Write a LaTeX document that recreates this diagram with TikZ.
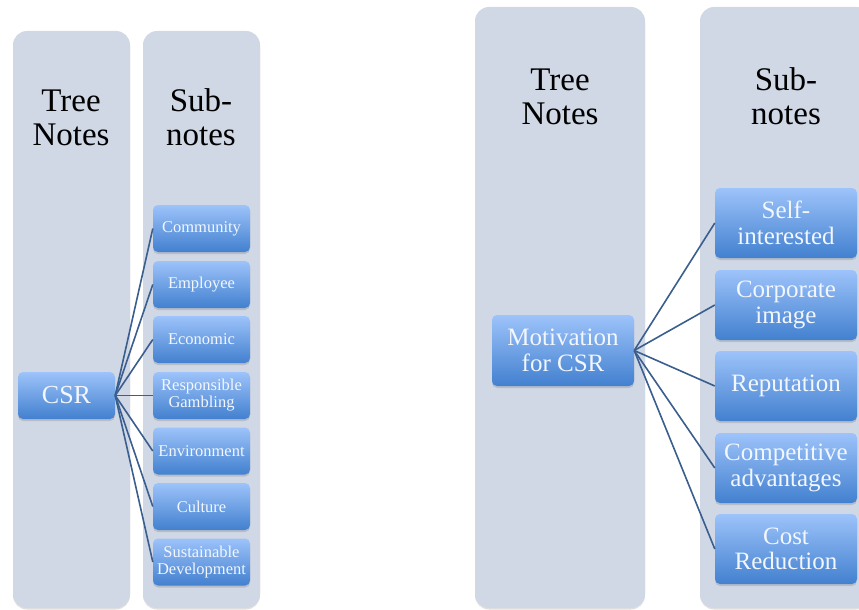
\documentclass[tikz,border=0pt]{standalone}
\usepackage{fontspec}
\setmainfont{Liberation Serif}
\usetikzlibrary{shadows}

\definecolor{colfill}{RGB}{208,215,229}
\definecolor{boxtop}{RGB}{157,195,250}
\definecolor{boxbot}{RGB}{66,128,207}
\definecolor{linkcol}{RGB}{58,94,142}
\definecolor{boxtext}{RGB}{242,246,253}

\tikzset{
  column/.style={draw=none, fill=colfill, rounded corners=14pt,
    drop shadow={shadow xshift=0pt, shadow yshift=-1.5pt, opacity=0.25}},
  header/.style={align=center, font=\fontsize{33}{34}\selectfont, inner sep=0pt},
  item/.style={draw=none, rounded corners=5pt, top color=boxtop, bottom color=boxbot,
    text=boxtext, align=center, inner sep=0pt,
    drop shadow={shadow xshift=0pt, shadow yshift=-2pt, opacity=0.3}},
  smallitem/.style={item, minimum width=97pt, minimum height=47pt,
    font=\fontsize{16.5}{17}\selectfont},
  bigitem/.style={item, minimum width=142pt, minimum height=70pt,
    font=\fontsize{25}{25.5}\selectfont},
  link/.style={draw=linkcol, line width=1.6pt},
}

\begin{document}
\begin{tikzpicture}[x=1pt, y=-1pt]
  \useasboundingbox (0,0) rectangle (859,610);

  % ---- left tree: CSR ----
  \node[column, minimum width=117pt, minimum height=577pt] (lcol1) at (71.5,319.5) {};
  \node[column, minimum width=117pt, minimum height=577pt] (lcol2) at (201.5,319.5) {};
  \node[header] (lh1) at (71,118) {Tree\\Notes};
  \node[header] (lh2) at (201,117) {Sub-\\notes};

  \node[smallitem, font=\fontsize{26}{27}\selectfont] (csr) at (66.5,395.5) {CSR};

  \node[smallitem] (l1) at (201.5,228.5) {Community};
  \node[smallitem] (l2) at (201.5,284.5) {Employee};
  \node[smallitem] (l3) at (201.5,339.5) {Economic};
  \node[smallitem] (l4) at (201.5,395.5) {Responsible\\Gambling};
  \node[smallitem] (l5) at (201.5,451) {Environment};
  \node[smallitem] (l6) at (201.5,506.5) {Culture};
  \node[smallitem] (l7) at (201.5,562) {Sustainable\\Development};

  \foreach \n in {l1,l2,l3,l4,l5,l6,l7}
    \draw[link] (csr.east) -- (\n.west);

  % ---- right tree: motivation for CSR ----
  \node[column, minimum width=170pt, minimum height=601pt] (rcol1) at (560,307.5) {};
  \node[column, minimum width=170pt, minimum height=601pt] (rcol2) at (785,307.5) {};
  \node[header] (rh1) at (560,97) {Tree\\Notes};
  \node[header] (rh2) at (786,96) {Sub-\\notes};

  \node[bigitem, minimum height=71pt] (mot) at (563,350.5) {Motivation\\for CSR};

  \node[bigitem] (r1) at (786,223) {Self-\\interested};
  \node[bigitem] (r2) at (786,305) {Corporate\\image};
  \node[bigitem] (r3) at (786,386) {Reputation};
  \node[bigitem] (r4) at (786,468) {Competitive\\advantages};
  \node[bigitem] (r5) at (786,549) {Cost\\Reduction};

  \foreach \n in {r1,r2,r3,r4,r5}
    \draw[link] (mot.east) -- (\n.west);
\end{tikzpicture}
\end{document}
